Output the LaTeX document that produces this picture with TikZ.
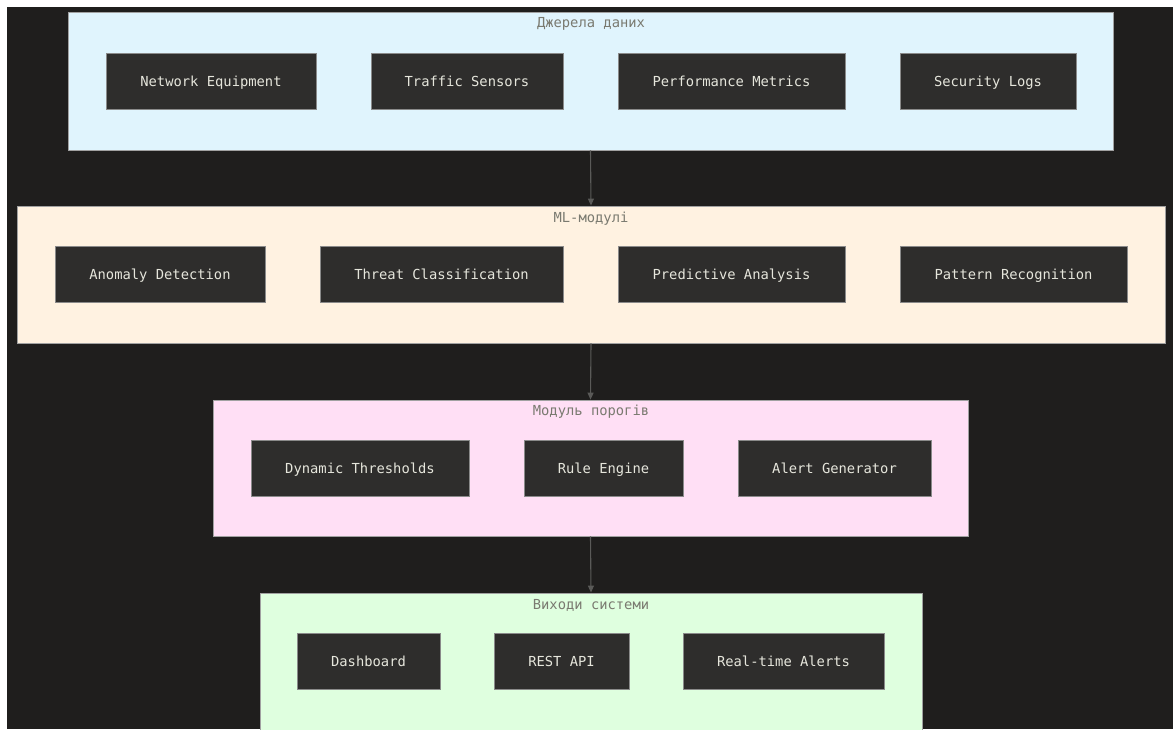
\documentclass[tikz,border=0pt]{standalone}
\usepackage{fontspec}
\setmonofont{DejaVu Sans Mono}
\usetikzlibrary{arrows.meta}
\definecolor{bgdark}{HTML}{1F1E1D}
\definecolor{nodefill}{HTML}{2E2D2C}
\definecolor{nodeborder}{HTML}{8A8A8A}
\definecolor{nodetext}{HTML}{E6E6DC}
\definecolor{titletext}{HTML}{7A7A70}
\definecolor{cblue}{HTML}{E0F4FD}
\definecolor{ccream}{HTML}{FFF2E1}
\definecolor{cpink}{HTML}{FFDFF5}
\definecolor{cgreen}{HTML}{DFFFDF}
\definecolor{edgecol}{HTML}{5A5A58}
\begin{document}
\begin{tikzpicture}[x=1pt,y=-1pt,
  cluster/.style={draw=nodeborder!80, line width=0.8pt, inner sep=0pt},
  ctitle/.style={font=\ttfamily\fontsize{13.8}{14}\selectfont, text=titletext, anchor=center,
     inner sep=0pt, text height=10pt, text depth=0pt},
  box/.style={draw=nodeborder, fill=nodefill, line width=0.8pt, text=nodetext,
     font=\ttfamily\fontsize{13.8}{14}\selectfont, inner sep=0pt, text height=10pt, text depth=0pt,
     minimum height=56pt},
  flow/.style={draw=edgecol, line width=1.1pt, -{Triangle[length=7pt,width=6pt]}}]
\useasboundingbox (0,0) rectangle (1173,729);
\fill[white] (0,0) rectangle (1173,729);
\fill[bgdark] (7,7) rectangle (1173,729);
% clusters
\node[cluster, fill=cblue, minimum width=1045pt, minimum height=138pt] (c1) at (590.5,81) {};
\node[cluster, fill=ccream, minimum width=1148pt, minimum height=137pt] (c2) at (591,274.5) {};
\node[cluster, fill=cpink, minimum width=755pt, minimum height=136pt] (c3) at (590.5,468) {};
\node[cluster, fill=cgreen, minimum width=662pt, minimum height=150pt] (c4) at (591,668) {};
\node[ctitle] (t1) at (591,22) {Джерела даних};
\node[ctitle] (t2) at (591,217) {ML-модулі};
\node[ctitle] (t3) at (591,410) {Модуль порогів};
\node[ctitle] (t4) at (591,604) {Виходи системи};
% row 1
\node[box, minimum width=210pt] (n1) at (211,81) {Network Equipment};
\node[box, minimum width=192pt] (n2) at (467,81) {Traffic Sensors};
\node[box, minimum width=227pt] (n3) at (731.5,81) {Performance Metrics};
\node[box, minimum width=176pt] (n4) at (988,81) {Security Logs};
% row 2
\node[box, minimum width=210pt] (m1) at (160,274.5) {Anomaly Detection};
\node[box, minimum width=243pt] (m2) at (441.5,274.5) {Threat Classification};
\node[box, minimum width=227pt] (m3) at (731.5,274.5) {Predictive Analysis};
\node[box, minimum width=227pt] (m4) at (1013.5,274.5) {Pattern Recognition};
% row 3
\node[box, minimum width=218pt] (p1) at (360,468) {Dynamic Thresholds};
\node[box, minimum width=159pt] (p2) at (603.5,468) {Rule Engine};
\node[box, minimum width=193pt] (p3) at (834.5,468) {Alert Generator};
% row 4
\node[box, minimum width=143pt] (o1) at (368.5,661) {Dashboard};
\node[box, minimum width=135pt] (o2) at (561.5,661) {REST API};
\node[box, minimum width=201pt] (o3) at (783.5,661) {Real-time Alerts};
% connectors
\draw[flow] (c1.south) -- (c2.north);
\draw[flow] (c2.south) -- (c3.north);
\draw[flow] (c3.south) -- (c4.north);
\end{tikzpicture}
\end{document}
